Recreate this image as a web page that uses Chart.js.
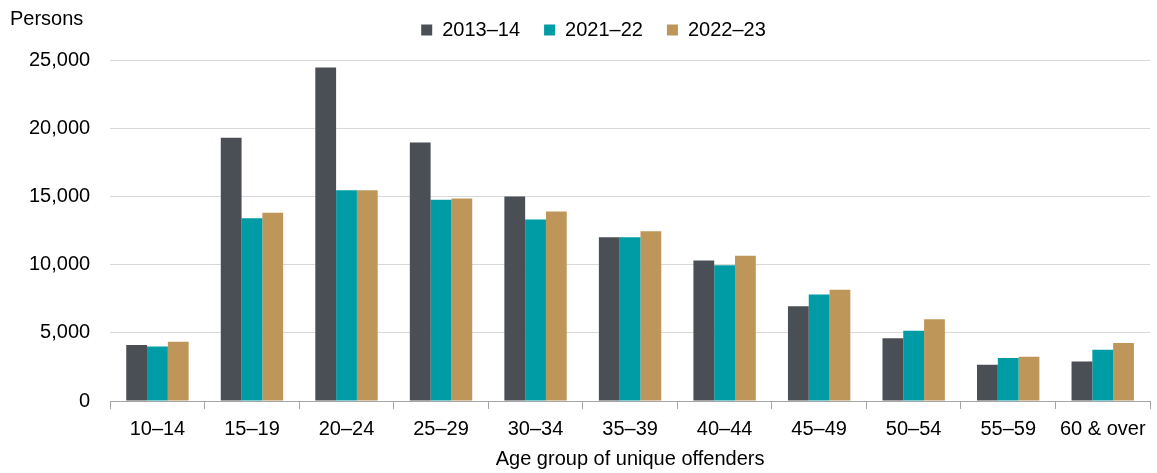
<!DOCTYPE html>
<html>
<head>
<meta charset="utf-8">
<script src="https://cdn.jsdelivr.net/npm/chart.js@4/dist/chart.umd.min.js"></script>
<style>
  html, body { margin: 0; padding: 0; background: #fff; }
  #wrap { width: 1157px; height: 473px; position: relative; }
</style>
</head>
<body>
<div id="wrap"><canvas id="c"></canvas></div>
<script>
const categories = ['10–14', '15–19', '20–24', '25–29', '30–34', '35–39', '40–44', '45–49', '50–54', '55–59', '60 & over'];
const seriesNames = ['2013–14', '2021–22', '2022–23'];
const values2013 = [4100, 19300, 24450, 18950, 15000, 12000, 10300, 6950, 4600, 2650, 2900];
const values2021 = [4000, 13400, 15450, 14750, 13300, 12000, 9950, 7800, 5150, 3150, 3750];
const values2022 = [4350, 13800, 15450, 14850, 13900, 12450, 10650, 8150, 6000, 3250, 4250];
const colors = ['#4a4f56', '#009ca6', '#bf965a'];
const yTicks = [0, 5000, 10000, 15000, 20000, 25000];
const yTitle = 'Persons';
const xTitle = 'Age group of unique offenders';

const FONT = "'Liberation Sans', Arial, sans-serif";
Chart.defaults.font.family = FONT;
Chart.defaults.font.size = 20;
Chart.defaults.color = '#000';

const personsLabel = {
  id: 'personsLabel',
  afterDraw(chart) {
    const ctx = chart.ctx;
    ctx.save();
    ctx.font = '20px ' + FONT;
    ctx.fillStyle = '#000';
    ctx.textBaseline = 'middle';
    ctx.textAlign = 'left';
    ctx.fillText(yTitle, 10, 19);
    ctx.restore();
  }
};

const legendMargin = {
  id: 'legendMargin',
  beforeInit(chart) {
    const lg = chart.legend;
    if (!lg) return;
    const origFit = lg.fit;
    lg.fit = function () {
      origFit.call(this);
      this.height += 10;
    };
  },
  afterLayout(chart) {
    const lg = chart.legend;
    if (!lg) return;
    lg.left += 14;
    lg.right += 14;
  }
};

new Chart(document.getElementById('c'), {
  type: 'bar',
  data: {
    labels: categories,
    datasets: [
      { label: seriesNames[0], data: values2013, backgroundColor: colors[0] },
      { label: seriesNames[1], data: values2021, backgroundColor: colors[1] },
      { label: seriesNames[2], data: values2022, backgroundColor: colors[2] }
    ]
  },
  options: {
    responsive: true,
    maintainAspectRatio: false,
    animation: false,
    datasets: { bar: { barPercentage: 1, categoryPercentage: 0.66, borderWidth: 0 } },
    layout: { padding: { left: 9, right: 7, top: -4, bottom: 2 } },
    plugins: {
      legend: {
        display: true,
        position: 'top',
        labels: {
          boxWidth: 11,
          boxHeight: 11,
          padding: 24,
          font: { size: 20, family: FONT },
          color: '#000'
        }
      },
      tooltip: { enabled: false }
    },
    scales: {
      x: {
        grid: {
          display: true,
          drawOnChartArea: false,
          drawTicks: true,
          tickLength: 8,
          color: '#a6a6a6',
          offset: true
        },
        border: { display: true, color: '#a6a6a6', width: 1 },
        ticks: { padding: 8, font: { size: 20 }, color: '#000', maxRotation: 0, autoSkip: false },
        title: { display: true, text: xTitle, font: { size: 20 }, color: '#000', padding: { top: -2, bottom: 0 } }
      },
      y: {
        min: 0,
        max: 25000,
        afterBuildTicks(scale) { scale.ticks = yTicks.map(v => ({ value: v })); },
        grid: { color: '#d9d9d9', lineWidth: 1, drawTicks: false },
        border: { display: false },
        ticks: {
          padding: 20,
          font: { size: 20 },
          color: '#000',
          callback: v => v.toLocaleString('en-US')
        }
      }
    }
  },
  plugins: [personsLabel, legendMargin]
});
</script>
</body>
</html>
